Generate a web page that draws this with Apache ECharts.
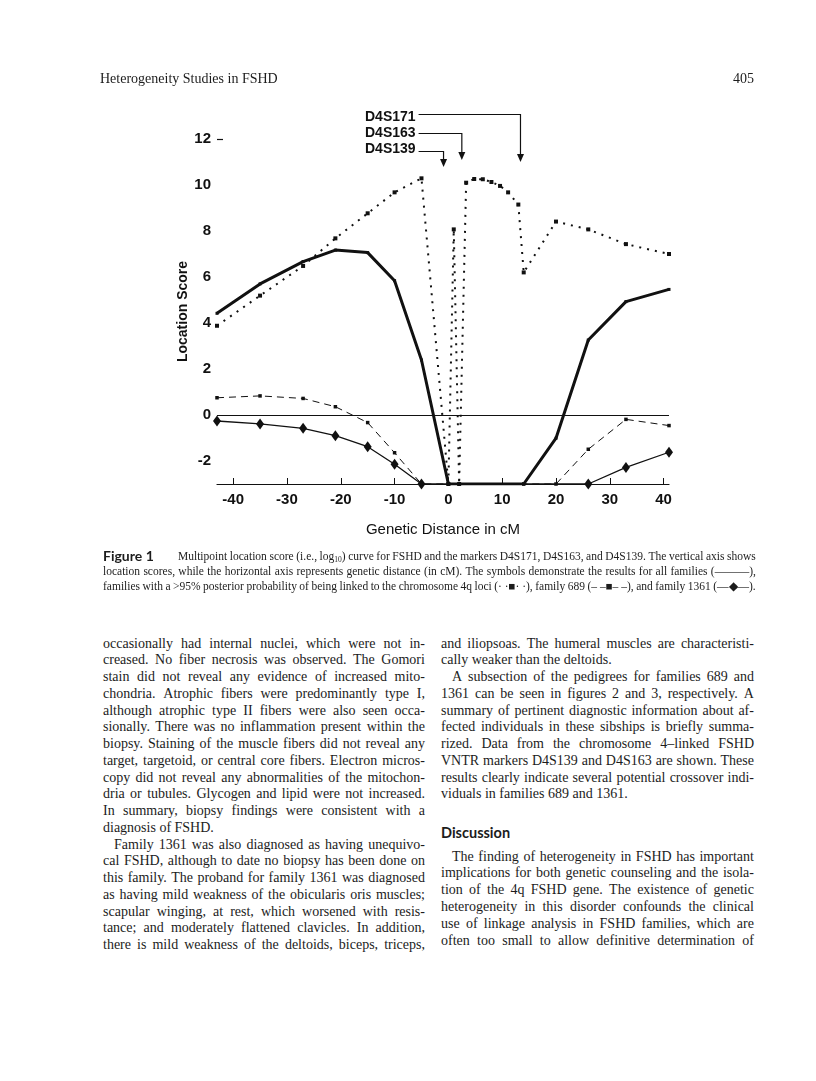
<!DOCTYPE html>
<html>
<head>
<meta charset="utf-8">
<script src="https://cdn.jsdelivr.net/npm/echarts@6/dist/echarts.min.js"></script>
<style>
html,body{margin:0;padding:0;background:#fff;}
#page{position:relative;width:816px;height:1081px;overflow:hidden;color:#1c1c1c;background:#fff;}
#chart{position:absolute;left:0;top:0;width:816px;height:600px;}
.serif{font-family:"Liberation Serif","Times New Roman",serif;}
.sans{font-family:Lato,"Liberation Sans",Arial,sans-serif;font-weight:bold;}
.ln{position:absolute;white-space:nowrap;}
.body{font-size:14px;}
.cap{font-size:11.5px;}
sub{font-size:7.5px;line-height:0;vertical-align:-2px;}
</style>
</head>
<body>
<div id="page">
  <div id="chart"></div>
  <div id="text"></div>
</div>
<script>
// ---------------- data ----------------
const xTicks = [-40, -30, -20, -10, 0, 10, 20, 30, 40];
const yTicks = [-2, 0, 2, 4, 6, 8, 10, 12];

// all families (thick solid line)
const xAll = [-43, -35, -27, -21, -15, -10, -5, 0, 14, 20, 26, 33, 41];
const yAll = [4.42, 5.70, 6.67, 7.17, 7.06, 5.84, 2.39, -3, -3, -1.01, 3.26, 4.93, 5.46];

// families with >95% posterior probability of 4q linkage (dotted line, squares)
const x95 = [-43, -35, -27, -21, -15, -10, -5, 0, 1, 2, 3.3, 4.8, 6.4, 8, 9.6, 11.1, 13, 14, 20, 26, 33, 41];
const y95 = [3.88, 5.19, 6.48, 7.68, 8.77, 9.68, 10.29, -3, 8.07, -3, 10.1, 10.26, 10.25, 10.13, 9.96, 9.68, 9.15, 6.2, 8.41, 8.07, 7.43, 7.0];

// family 689 (dashed line, small squares)
const x689 = [-43, -35, -27, -21, -15, -10, -5, 0, 14, 20, 26, 33, 41];
const y689 = [0.75, 0.83, 0.72, 0.36, -0.33, -1.64, -3, -3, -3, -3, -1.49, -0.19, -0.46];

// family 1361 (thin solid line, diamonds)
const x1361 = [-43, -35, -27, -21, -15, -10, -5, 26, 33, 41];
const y1361 = [-0.26, -0.39, -0.58, -0.90, -1.38, -2.14, -3, -3, -2.28, -1.62];

// marker loci (cM) pointed to by arrows
const markerNames = ['D4S171', 'D4S163', 'D4S139'];
const markerPositions = [13.4, 2.5, -0.9];

// ---------------- text ----------------
const headerLeft = 'Heterogeneity Studies in FSHD';
const headerRight = '405';
const captionHead = 'Figure 1';
const captionLines = [
  'Multipoint location score (i.e., log<sub>10</sub>) curve for FSHD and the markers D4S171, D4S163, and D4S139. The vertical axis shows',
  'location scores, while the horizontal axis represents genetic distance (in cM). The symbols demonstrate the results for all families (———),',
  'families with a &gt;95% posterior probability of being linked to the chromosome 4q loci (·\u00a0·■·\u00a0·), family 689 (–\u00a0–■–\u00a0–), and family 1361 (—◆—).'
];
const leftLines = [
  'occasionally had internal nuclei, which were not in-',
  'creased. No fiber necrosis was observed. The Gomori',
  'stain did not reveal any evidence of increased mito-',
  'chondria. Atrophic fibers were predominantly type I,',
  'although atrophic type II fibers were also seen occa-',
  'sionally. There was no inflammation present within the',
  'biopsy. Staining of the muscle fibers did not reveal any',
  'target, targetoid, or central core fibers. Electron micros-',
  'copy did not reveal any abnormalities of the mitochon-',
  'dria or tubules. Glycogen and lipid were not increased.',
  'In summary, biopsy findings were consistent with a',
  'diagnosis of FSHD.',
  'Family 1361 was also diagnosed as having unequivo-',
  'cal FSHD, although to date no biopsy has been done on',
  'this family. The proband for family 1361 was diagnosed',
  'as having mild weakness of the obicularis oris muscles;',
  'scapular winging, at rest, which worsened with resis-',
  'tance; and moderately flattened clavicles. In addition,',
  'there is mild weakness of the deltoids, biceps, triceps,'
];
const leftLast = [11];
const leftIndent = [12];
const rightLinesA = [
  'and iliopsoas. The humeral muscles are characteristi-',
  'cally weaker than the deltoids.',
  'A subsection of the pedigrees for families 689 and',
  '1361 can be seen in figures 2 and 3, respectively. A',
  'summary of pertinent diagnostic information about af-',
  'fected individuals in these sibships is briefly summa-',
  'rized. Data from the chromosome 4–linked FSHD',
  'VNTR markers D4S139 and D4S163 are shown. These',
  'results clearly indicate several potential crossover indi-',
  'viduals in families 689 and 1361.'
];
const rightALast = [1, 9];
const rightAIndent = [2];
const sectionTitle = 'Discussion';
const rightLinesB = [
  'The finding of heterogeneity in FSHD has important',
  'implications for both genetic counseling and the isola-',
  'tion of the 4q FSHD gene. The existence of genetic',
  'heterogeneity in this disorder confounds the clinical',
  'use of linkage analysis in FSHD families, which are',
  'often too small to allow definitive determination of'
];
const rightBIndent = [0];

// ---------------- page text layout ----------------
const textRoot = document.getElementById('text');
function addLine(html, left, centerY, width, lh, justify, cls) {
  const d = document.createElement('div');
  d.className = 'ln ' + cls;
  d.style.left = left + 'px';
  d.style.top = (centerY - lh / 2) + 'px';
  d.style.height = lh + 'px';
  d.style.lineHeight = lh + 'px';
  if (width) d.style.width = width + 'px';
  if (justify) {
    d.style.display = 'flex';
    d.style.justifyContent = 'space-between';
    html.split(' ').forEach(function (w) {
      const s = document.createElement('span');
      s.innerHTML = w;
      d.appendChild(s);
    });
  } else {
    d.innerHTML = html;
  }
  textRoot.appendChild(d);
  return d;
}
// header
addLine(headerLeft, 100, 79, 0, 18, false, 'serif body');
const pn = addLine(headerRight, 0, 79, 0, 18, false, 'serif body');
pn.style.left = ''; pn.style.right = (816 - 754) + 'px';

// caption
addLine(captionHead, 103, 556, 0, 16, false, 'sans').style.fontSize = '14px';
addLine(captionLines[0], 178, 556, 756 - 178, 15, true, 'serif cap');
addLine(captionLines[1], 103, 571, 756 - 103, 15, true, 'serif cap');
addLine(captionLines[2], 103, 586, 756 - 103, 15, true, 'serif cap');

// body columns
const LH = 16.75, IND = 11;
const L0 = 103, LW = 322, R0 = 441, RW = 313;
leftLines.forEach(function (t, i) {
  const ind = leftIndent.indexOf(i) >= 0 ? IND : 0;
  addLine(t, L0 + ind, 644 + i * LH, LW - ind, LH, leftLast.indexOf(i) < 0, 'serif body');
});
rightLinesA.forEach(function (t, i) {
  const ind = rightAIndent.indexOf(i) >= 0 ? IND : 0;
  addLine(t, R0 + ind, 644 + i * LH, RW - ind, LH, rightALast.indexOf(i) < 0, 'serif body');
});
addLine(sectionTitle, R0, 833, 0, 18, false, 'sans').style.fontSize = '14.5px';
rightLinesB.forEach(function (t, i) {
  const ind = rightBIndent.indexOf(i) >= 0 ? IND : 0;
  addLine(t, R0 + ind, 857 + i * 16.8, RW - ind, LH, true, 'serif body');
});

// ---------------- chart ----------------
function zip(xs, ys) { return xs.map(function (x, i) { return [x, ys[i]]; }); }
const FONT = '"Liberation Sans", Arial, Helvetica, sans-serif';
const INK = '#111';
const chart = echarts.init(document.getElementById('chart'), null, { renderer: 'canvas' });
chart.setOption({
  animation: false,
  backgroundColor: 'transparent',
  grid: { left: 217, top: 139, width: 452, height: 345, containLabel: false },
  xAxis: {
    type: 'value', min: -43, max: 41,
    axisLine: { show: true, onZero: false, lineStyle: { color: INK, width: 1.2 } },
    axisTick: { show: true, inside: true, length: 6, customValues: xTicks, lineStyle: { color: INK, width: 1 } },
    axisLabel: { customValues: xTicks, margin: 8, fontFamily: FONT, fontWeight: 'bold', fontSize: 15, color: INK },
    splitLine: { show: false },
    name: 'Genetic Distance in cM', nameLocation: 'middle', nameGap: 38,
    nameTextStyle: { fontFamily: FONT, fontSize: 15, color: INK }
  },
  yAxis: {
    type: 'value', min: -3, max: 12,
    axisLine: { show: false, onZero: false },
    axisTick: { show: true, inside: true, length: 6, customValues: [12], lineStyle: { color: INK, width: 1.2 } },
    axisLabel: { customValues: yTicks, margin: 6, fontFamily: FONT, fontWeight: 'bold', fontSize: 15, color: INK },
    splitLine: { show: false },
    name: 'Location Score', nameLocation: 'middle', nameGap: 27, nameRotate: 90, nameMoveOverlap: false,
    nameTextStyle: { fontFamily: FONT, fontWeight: 'bold', fontSize: 14, color: INK }
  },
  series: [
    {
      name: 'All families', type: 'line', data: zip(xAll, yAll),
      symbol: 'rect', symbolSize: 3, itemStyle: { color: INK },
      lineStyle: { color: INK, width: 3 }, z: 4,
      markLine: {
        silent: true, symbol: 'none', label: { show: false },
        lineStyle: { color: INK, width: 1, type: 'solid' },
        data: [{ yAxis: 0 }]
      }
    },
    {
      name: '>95% linked', type: 'line', data: zip(x95, y95),
      symbol: 'rect', symbolSize: 4, itemStyle: { color: INK },
      lineStyle: { color: INK, width: 2, type: [2, 6], cap: 'butt' }, z: 3
    },
    {
      name: 'Family 689', type: 'line', data: zip(x689, y689),
      symbol: 'rect', symbolSize: 3.5, itemStyle: { color: INK },
      lineStyle: { color: INK, width: 1, type: [7, 5] }, z: 3
    },
    {
      name: 'Family 1361', type: 'line', data: zip(x1361, y1361),
      symbol: 'diamond', symbolSize: [8, 11], itemStyle: { color: INK },
      lineStyle: { color: INK, width: 1.3 }, z: 5
    }
  ]
});

// marker annotations (arrows pointing to loci), x taken from the axis scale
const annLayout = { textLeft: 365, textY: [118, 134, 150.5], lineY: [114.5, 133.5, 151.5], tipY: [162, 160, 167] };
const ctx = document.createElement('canvas').getContext('2d');
const annFont = 'bold 14px "Liberation Sans", Arial, sans-serif';
ctx.font = annFont;
const graphics = [];
markerNames.forEach(function (name, i) {
  const px = chart.convertToPixel({ gridIndex: 0 }, [markerPositions[i], 0])[0];
  const tw = ctx.measureText(name).width;
  const x0 = annLayout.textLeft + tw + 3;
  const ly = annLayout.lineY[i], ty = annLayout.tipY[i];
  graphics.push({
    type: 'text', left: annLayout.textLeft, top: annLayout.textY[i] - 8,
    style: { text: name, font: annFont, fill: INK }
  });
  graphics.push({
    type: 'polyline', shape: { points: [[x0, ly], [px, ly], [px, ty - 6]] },
    style: { stroke: INK, lineWidth: 1.2, fill: null }
  });
  graphics.push({
    type: 'polygon', shape: { points: [[px - 3.5, ty - 8], [px + 3.5, ty - 8], [px, ty]] },
    style: { fill: INK }
  });
});
chart.setOption({ graphic: graphics });
</script>
</body>
</html>
